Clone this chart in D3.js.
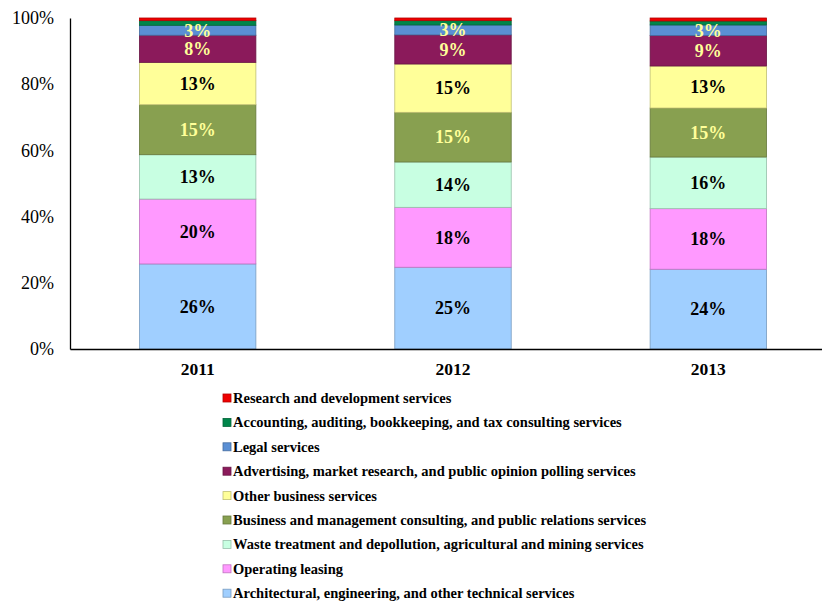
<!DOCTYPE html>
<html>
<head>
<meta charset="utf-8">
<script src="https://cdn.jsdelivr.net/npm/d3@7"></script>
<style>
  html, body { margin: 0; padding: 0; background: #fff; }
  svg { display: block; font-family: "Liberation Serif", "Times New Roman", serif; }
</style>
</head>
<body>
<svg id="chart" width="822" height="601"></svg>
<script>
// Years on the x axis
const years = ["2011", "2012", "2013"];

// Service categories, bottom of the stack first
const categories = [
  "Architectural, engineering, and other technical services",
  "Operating leasing",
  "Waste treatment and depollution, agricultural and mining services",
  "Business and management consulting, and public relations services",
  "Other business services",
  "Advertising, market research, and public opinion polling services",
  "Legal services",
  "Accounting, auditing, bookkeeping, and tax consulting services",
  "Research and development services"
];

// Shares (%) per category, one value per year
const architectural = [25.7, 24.7, 24.1];
const operatingLeasing = [19.6, 18.1, 18.3];
const wasteTreatment = [13.4, 13.7, 15.6];
const businessConsulting = [15.1, 15.0, 14.8];
const otherBusiness = [12.8, 14.6, 12.7];
const advertising = [8.2, 8.8, 9.2];
const legal = [3.0, 3.0, 3.2];
const accounting = [1.4, 1.3, 1.2];
const researchDev = [0.8, 0.8, 0.9];

const yTicks = [0, 20, 40, 60, 80, 100];

const seriesValues = [architectural, operatingLeasing, wasteTreatment, businessConsulting,
  otherBusiness, advertising, legal, accounting, researchDev];

const colors = ["#a0cfff", "#ff99ff", "#c8ffe2", "#88a050", "#ffff99",
  "#8b1a5b", "#5a8fd4", "#00854a", "#ee0000"];
// Which segments carry a value label, and in which colour
const labelColors = ["#000", "#000", "#000", "#ffff99", "#000", "#ffff99", "#ffff99", null, null];

const rows = years.map((yr, i) => {
  const r = { year: yr };
  categories.forEach((c, k) => { r[c] = seriesValues[k][i]; });
  return r;
});

const stack = d3.stack().keys(categories);
const layers = stack(rows);

const svg = d3.select("#chart");
const x = d3.scaleBand().domain(years).range([70, 836]).paddingInner(0.544).paddingOuter(0.272);
const y = d3.scaleLinear().domain([0, 100]).range([349, 18]);

// stacked bars
const g = svg.append("g");
layers.forEach((layer, k) => {
  g.selectAll(null).data(layer).enter().append("rect")
    .attr("x", d => x(d.data.year))
    .attr("y", d => y(d[1]))
    .attr("width", x.bandwidth())
    .attr("height", d => y(d[0]) - y(d[1]))
    .attr("fill", colors[k])
    .attr("stroke", d3.color(colors[k]).darker(0.8))
    .attr("stroke-width", 0.8);
});

// value labels
const fmt = d3.format(".0f");
layers.forEach((layer, k) => {
  if (!labelColors[k]) return;
  g.selectAll(null).data(layer).enter().append("text")
    .attr("x", d => x(d.data.year) + x.bandwidth() / 2)
    .attr("y", d => (y(d[0]) + y(d[1])) / 2)
    .attr("dy", "0.35em")
    .attr("text-anchor", "middle")
    .attr("font-size", 18)
    .attr("font-weight", "bold")
    .attr("fill", labelColors[k])
    .text(d => fmt(d[1] - d[0]) + "%");
});

// y axis
const yAxis = d3.axisLeft(y).tickValues(yTicks).tickSize(0).tickPadding(16).tickFormat(d => d + "%");
const ya = svg.append("g").attr("transform", "translate(70,0)").call(yAxis);
ya.select(".domain").attr("stroke", "#000").attr("stroke-width", 1.3);
ya.selectAll("text").attr("font-size", 18).attr("font-family", "Liberation Serif").attr("fill", "#000");

// x axis
const xAxis = d3.axisBottom(x).tickSize(0).tickPadding(14);
const xa = svg.append("g").attr("transform", "translate(0,349)").call(xAxis);
xa.select(".domain").attr("stroke", "#000").attr("stroke-width", 1.3);
xa.selectAll("text").attr("font-size", 17.5).attr("font-weight", "bold")
  .attr("font-family", "Liberation Serif").attr("fill", "#000");

// legend, top entry is the top of the stack
const legendOrder = categories.map((c, k) => k).reverse();
const lg = svg.append("g").attr("transform", "translate(223,398)");
legendOrder.forEach((k, i) => {
  const row = lg.append("g").attr("transform", `translate(0,${i * 24.4})`);
  row.append("rect").attr("x", 0).attr("y", -4).attr("width", 8).attr("height", 8)
    .attr("fill", colors[k]).attr("stroke", d3.color(colors[k]).darker(0.8)).attr("stroke-width", 0.8);
  row.append("text").attr("x", 10).attr("y", 0).attr("dy", "0.35em")
    .attr("font-size", 14.5).attr("font-weight", "bold").attr("fill", "#000")
    .text(categories[k]);
});
</script>
</body>
</html>
